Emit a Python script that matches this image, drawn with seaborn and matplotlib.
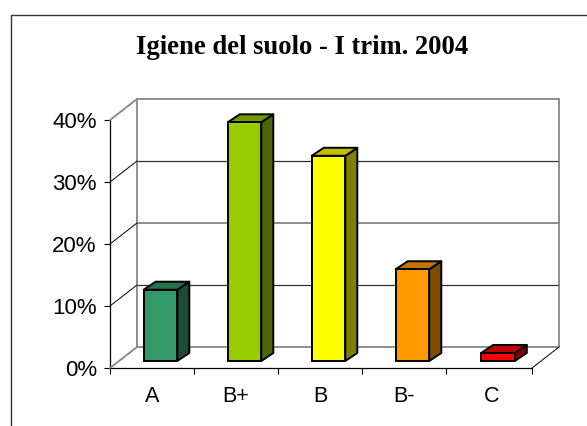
import matplotlib
matplotlib.use("Agg")
import matplotlib.pyplot as plt
import seaborn as sns
import pandas as pd
from matplotlib.patches import Polygon
from matplotlib.transforms import Affine2D, IdentityTransform
from matplotlib.lines import Line2D
from matplotlib.ticker import FuncFormatter, FixedLocator

categories = ["A", "B+", "B", "B-", "C"]
values = [11.5, 38.5, 33.1, 14.8, 1.3]
colors = ["#339966", "#99CC00", "#FFFF00", "#FF9900", "#FF0000"]
top_colors = ["#267350", "#739900", "#BFBF00", "#BF7300", "#BF0000"]
side_colors = ["#1A4D33", "#4D6600", "#808000", "#804D00", "#800000"]
title = "Igiene del suolo - I trim. 2004"
y_ticks = [0, 10, 20, 30, 40]

sns.set_theme(style="white")
W, H = 587, 426
fig = plt.figure(figsize=(W / 100, H / 100), dpi=100, facecolor="white")
ax = fig.add_axes([110 / W, (H - 368) / H, 422 / W, 248 / H])
ax.patch.set_visible(False)

df = pd.DataFrame({"cat": categories, "val": values})
sns.barplot(data=df, x="cat", y="val", hue="cat", palette=colors, legend=False,
            width=0.40, dodge=False, ax=ax, edgecolor="black", linewidth=1.4,
            saturation=1, zorder=5)
ax.set_xlim(-0.5, 4.524)
ax.set_ylim(0, 40)
ax.set_xlabel("")
ax.set_ylabel("")

# Wall depth and bar placement within it (pixels)
DX, DY = 27, 21
back = ax.transData + Affine2D().translate(DX, DY)
GREY = "#868686"
for t in y_ticks:
    ax.plot([-0.5, 4.524], [t, t], color=GREY if t in (0, 20, 40) else "#303030",
            lw=0.9 if t in (10, 30) else 1.3, transform=back, clip_on=False, zorder=1)
    col = GREY if t in (0, 40) else "black"
    lw = 1.3 if t in (0, 40) else 0.7
    p0 = ax.transData.transform((-0.5, t))
    fig.add_artist(Line2D([p0[0], p0[0] + DX], [p0[1], p0[1] + DY], color=col, lw=lw,
                          transform=IdentityTransform(), zorder=1))
for xv in (-0.5, 4.524):
    ax.plot([xv, xv], [0, 40], color=GREY, lw=1.3, transform=back, clip_on=False, zorder=1)
p1 = ax.transData.transform((4.524, 0))
fig.add_artist(Line2D([p1[0], p1[0] + DX], [p1[1], p1[1] + DY], color="black", lw=0.7,
                      transform=IdentityTransform(), zorder=1))

# 3-D bars: the front face comes from seaborn, the sides follow it
BX, BY = 8.5, 7
SX, SY = 12, 8
bars = [b for c in ax.containers for b in c]
for i, b in enumerate(bars):
    extra = 1.5 if i == len(bars) - 1 else 0
    shift = Affine2D().translate(BX + extra, BY)
    b.set_transform(ax.transData + shift)
    b.set_clip_on(False)
    x0, y0 = b.get_x(), 0
    x1, y1 = x0 + b.get_width(), b.get_height()
    (ax0, ay0), (ax1, ay1) = shift.transform(ax.transData.transform([(x0, y0), (x1, y1)]))
    side = [(ax1, ay0), (ax1 + SX, ay0 + SY), (ax1 + SX, ay1 + SY), (ax1, ay1)]
    top = [(ax0, ay1), (ax0 + SX, ay1 + SY), (ax1 + SX, ay1 + SY), (ax1, ay1)]
    for pts, col in ((side, side_colors[i]), (top, top_colors[i])):
        ax.add_patch(Polygon(pts, closed=True, facecolor=col, edgecolor="black", lw=1.4,
                             joinstyle="round", transform=IdentityTransform(),
                             clip_on=False, zorder=4))

for s in ("top", "right"):
    ax.spines[s].set_visible(False)
for s in ("left", "bottom"):
    ax.spines[s].set_color("black")
    ax.spines[s].set_linewidth(0.9)
    ax.spines[s].set_visible(True)

ax.yaxis.set_major_locator(FixedLocator(y_ticks))
ax.yaxis.set_major_formatter(FuncFormatter(lambda v, _: f"{v:.0f}%"))
ax.tick_params(axis="y", left=True, length=4.5, width=0.8, color="black", pad=5,
               labelsize=16, labelcolor="black")
ax.tick_params(axis="x", which="major", bottom=False, length=0, pad=13,
               labelsize=15.5, labelcolor="black")
ax.xaxis.set_minor_locator(FixedLocator([-0.5, 0.5, 1.5, 2.5, 3.5, 4.524]))
ax.tick_params(axis="x", which="minor", bottom=True, length=4.5, width=0.8, color="black")
for lab in ax.get_xticklabels() + ax.get_yticklabels():
    lab.set_family("Liberation Sans")
lab_c = ax.get_xticklabels()[-1]
lab_c.set_transform(lab_c.get_transform() + Affine2D().translate(4, 0))

fig.text(302 / W, 1 - 47 / H, title, ha="center", va="center", family="Liberation Serif",
         fontweight="bold", fontsize=19.2, color="black")

# Chart-area border (open to the right and bottom)
fig.add_artist(Line2D([11 / W, 11 / W, 1], [0, 1 - 14.5 / H, 1 - 14.5 / H],
                      color="#333333", lw=1.0, transform=fig.transFigure))

fig.savefig("out.png", dpi=100, facecolor="white")
